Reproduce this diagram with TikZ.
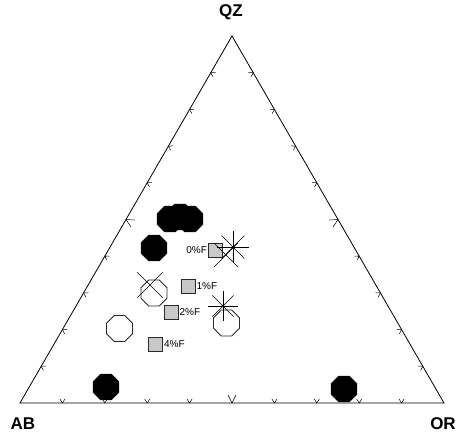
\documentclass[tikz,border=0pt]{standalone}
\usepackage{fontspec}
\setmainfont{Liberation Sans}
\usepackage{tikz}
\usetikzlibrary{shapes.geometric,calc}
\definecolor{sq}{RGB}{200, 200, 200}
\definecolor{ln}{RGB}{40, 40, 40}

\begin{document}
\begin{tikzpicture}[x=1pt, y=1pt,
  full/.style={regular polygon, regular polygon sides=8, minimum size=28pt, inner sep=0pt, fill=black, draw=black},
  hollow/.style={regular polygon, regular polygon sides=8, minimum size=28pt, inner sep=0pt, draw=ln, line width=0.8pt},
  box/.style={rectangle, minimum size=14pt, inner sep=0pt, fill=sq, draw=ln, line width=0.8pt},
  tag/.style={font=\fontsize{10}{11}\selectfont, inner sep=1pt},
  corner/.style={font=\fontsize{17}{18}\selectfont\bfseries},
  tick/.style={line width=0.5pt},
  spoke/.style={line width=0.6pt}]
\useasboundingbox (0,0) rectangle (460,433);
\coordinate (A) at (20,30);
\coordinate (B) at (444,30);
\coordinate (C) at (232,397);
\draw [line width=0.8pt] (A) -- (B) -- (C) -- cycle;
% tick marks every 10%
\foreach \ang/\p/\q in {0/A/B, 120/B/C, 240/C/A} {
  \foreach \t in {0.1,0.2,0.3,0.4,0.6,0.7,0.8,0.9} {
    \coordinate (tk) at ($(\p)!\t!(\q)$);
    \draw [tick, shift={(tk)}, rotate=\ang] (-2.5,4) -- (0,0) -- (2.5,4);
  }
  \coordinate (tk) at ($(\p)!0.5!(\q)$);
  \draw [tick, shift={(tk)}, rotate=\ang] (-4,8) -- (0,0) -- (4,8);
}
\node (ab) [corner] at (23,9) {AB};
\node (or) [corner] at (443,9) {OR};
\node (qz) [corner] at (231,421) {QZ};
% filled
\node (f1) [full] at (170,214) {};
\node (f2) [full] at (180,216) {};
\node (f3) [full] at (190,214) {};
\node (f4) [full] at (154,185) {};
\node (f5) [full] at (106,46) {};
\node (f6) [full] at (344,44) {};
% open
\node (o1) [hollow] at (154,140) {};
\node (o2) [hollow] at (119.5,104.5) {};
\node (o3) [hollow] at (226.5,110) {};
% squares
\node (q0) [box] at (215.5,183) {};
\node (q1) [box] at (188,147) {};
\node (q2) [box] at (171,121) {};
\node (q4) [box] at (155.5,89) {};
\node (l0) [tag, anchor=east] at (q0.west) {0\%F};
\node (l1) [tag, anchor=west] at (q1.east) {1\%F};
\node (l2) [tag, anchor=west] at (q2.east) {2\%F};
\node (l4) [tag, anchor=west] at (q4.east) {4\%F};
% crosses and stars
\coordinate (x1) at (150,148);
\coordinate (x2) at (226,178);
\coordinate (s1) at (233,186);
\coordinate (s2) at (223,127);
\foreach \a in {45,135,225,315} {
  \draw [spoke] (x1) -- ++(\a:18);
  \draw [spoke] (x2) -- ++(\a:17);
}
\foreach \a in {0,45,...,315} {
  \draw [spoke] (s1) -- ++(\a:16);
  \draw [spoke] (s2) -- ++(\a:15);
}
\fill (s2) circle (1.5pt);
\fill (s1) circle (1.2pt);
\end{tikzpicture}
\end{document}
